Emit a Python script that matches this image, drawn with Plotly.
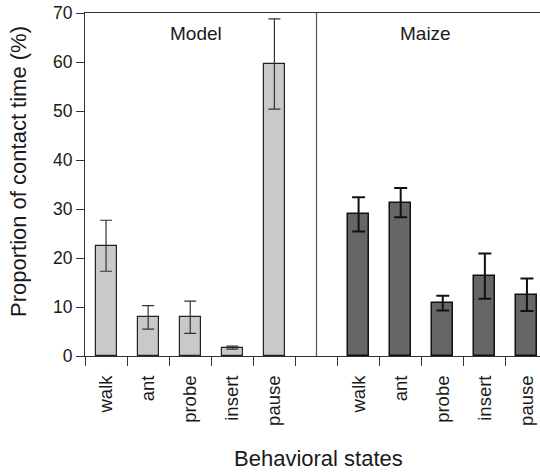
import plotly.graph_objects as go

states = ["walk", "ant", "probe", "insert", "pause"]
model_vals = [22.5, 7.9, 7.9, 1.7, 59.6]
model_err = [5.2, 2.4, 3.3, 0.3, 9.2]
maize_vals = [28.9, 31.3, 10.8, 16.3, 12.5]
maize_err = [3.5, 3.0, 1.5, 4.6, 3.3]
panel_names = ["Model", "Maize"]
y_ticks = [0, 10, 20, 30, 40, 50, 60, 70]

model_x = list(range(5))
maize_x = [i + 6 for i in range(5)]
boundaries = [i - 0.5 for i in range(12)]

FONT = "Liberation Sans, Arial, Helvetica, sans-serif"
W, H = 540, 474
ML, MR, MT, MB = 85, 0, 13, 118

fig = go.Figure()
fig.add_trace(go.Bar(
    x=model_x, y=model_vals, width=0.5,
    marker=dict(color="#c9c9c9", line=dict(color="#222222", width=1.2)),
    error_y=dict(type="data", array=model_err, color="#333333", thickness=1.2, width=6),
    showlegend=False,
))
fig.add_trace(go.Bar(
    x=maize_x, y=maize_vals, width=0.5,
    marker=dict(color="#666666", line=dict(color="#111111", width=1.5)),
    error_y=dict(type="data", array=maize_err, color="#111111", thickness=2, width=6.5),
    showlegend=False,
))
# invisible trace for the boundary-tick axis
fig.add_trace(go.Scatter(x=[0], y=[0], xaxis="x2", mode="markers",
                         marker=dict(opacity=0), showlegend=False, hoverinfo="skip"))

xr = [-0.5, 10.31]
pw, ph = W - ML - MR, H - MT - MB

fig.update_layout(
    width=W, height=H,
    margin=dict(l=ML, r=MR, t=MT, b=MB, autoexpand=False),
    paper_bgcolor="white", plot_bgcolor="white",
    font=dict(family=FONT, color="#1a1a1a"),
    bargap=0,
    xaxis=dict(
        range=xr, tickmode="array",
        tickvals=model_x + maize_x, ticktext=states + states,
        tickangle=-90, ticks="outside", ticklen=11, tickcolor="rgba(0,0,0,0)",
        tickfont=dict(size=18.5, family=FONT, color="#1a1a1a"),
        showline=True, linecolor="#333333", linewidth=1.2, mirror=True,
        showgrid=False, zeroline=False, automargin=False,
    ),
    xaxis2=dict(
        range=xr, overlaying="x", side="bottom", tickmode="array",
        tickvals=boundaries, ticks="outside", ticklen=9, tickcolor="#333333",
        tickwidth=1.2, showticklabels=False, showgrid=False, zeroline=False,
        showline=False, automargin=False,
    ),
    yaxis=dict(
        range=[0, 70], tickmode="array", tickvals=y_ticks,
        ticks="outside", ticklen=8, tickcolor="#333333", tickwidth=1.2,
        tickfont=dict(size=17.5, family=FONT, color="#1a1a1a"),
        showline=True, linecolor="#333333", linewidth=1.2,
        showgrid=False, zeroline=False, automargin=False,
    ),
    shapes=[dict(type="line", xref="x", yref="y", x0=5, x1=5, y0=0, y1=70,
                 line=dict(color="#555555", width=1.2))],
    annotations=[
        dict(text=panel_names[0], x=2.14, y=65.9, xref="x", yref="y",
             xanchor="center", yanchor="middle",
             showarrow=False, font=dict(size=19, family=FONT, color="#1a1a1a")),
        dict(text=panel_names[1], x=7.58, y=65.9, xref="x", yref="y",
             xanchor="center", yanchor="middle",
             showarrow=False, font=dict(size=19, family=FONT, color="#1a1a1a")),
        dict(text="Behavioral states", x=(318 - ML) / pw, y=(H - MB - 458) / ph,
             xref="paper", yref="paper", xanchor="center", yanchor="middle",
             showarrow=False, font=dict(size=22, family=FONT, color="#1a1a1a")),
        dict(text="Proportion of contact time (%)", x=(18 - ML) / pw,
             y=(H - MB - 172) / ph, xref="paper", yref="paper",
             xanchor="center", yanchor="middle",
             showarrow=False, textangle=-90,
             font=dict(size=22, family=FONT, color="#1a1a1a")),
    ],
)

fig.write_html(
    "out.html",
    config={"displayModeBar": False},
    post_script=(
        "document.body.style.margin='0px';"
        "document.body.style.padding='0px';"
        "document.documentElement.style.overflow='hidden';"
        "document.body.style.overflow='hidden';"
    ),
)
